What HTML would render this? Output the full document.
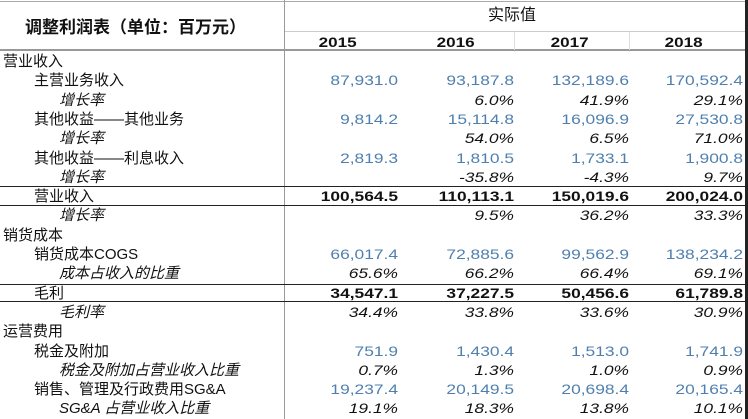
<!DOCTYPE html>
<html><head><meta charset="utf-8"><style>
body{margin:0;width:748px;height:419px;background:#fff;overflow:hidden;position:relative;font-family:"Liberation Sans","Noto Sans CJK SC",sans-serif;color:#111}
.a{position:absolute;white-space:nowrap;line-height:19px;font-size:13px}
.n{text-align:right;width:130px;font-size:14px;transform:scaleX(1.24);transform-origin:right center}
.y{font-size:14px;transform:scaleX(1.22);transform-origin:center}
.b{color:#4f7fae}
.i{font-style:italic}
.B{font-weight:bold}
.h{position:absolute;height:1px;background:#aaa}
.v{position:absolute;width:1px;background:#aaa}
</style></head><body>
<div class="h" style="left:0;top:1px;width:748px"></div>
<div class="h" style="left:285px;top:31px;width:463px;background:#ccc"></div>
<div class="h" style="left:0;top:49px;width:748px;background:#999;height:2px"></div>
<div class="v" style="left:284px;top:0;height:419px;background:#999"></div>
<div class="v" style="left:514px;top:32px;height:18px;background:#ddd"></div>
<div class="v" style="left:629px;top:32px;height:18px;background:#ddd"></div>
<div style="position:absolute;left:745px;top:0;width:3px;height:419px;background:#222"></div>
<div class="h" style="left:0;top:186px;width:745px;background:#222"></div>
<div class="h" style="left:0;top:205px;width:745px;background:#222"></div>
<div class="h" style="left:0;top:284px;width:745px;background:#222"></div>
<div class="h" style="left:0;top:301px;width:745px;background:#222"></div>
<div class="a B" style="left:25px;top:17px;font-size:17px;line-height:22px">调整利润表（单位：百万元）</div>
<div class="a" style="left:488px;top:6px;font-size:16px">实际值</div>
<div class="a B y" style="left:322px;top:33px">2015</div>
<div class="a B y" style="left:440px;top:33px">2016</div>
<div class="a B y" style="left:554px;top:33px">2017</div>
<div class="a B y" style="left:668px;top:33px">2018</div>
<div id="r"></div>
<script>
var rows=[
["营业收入",0,"",[]],
["主营业务收入",1,"b",["87,931.0","93,187.8","132,189.6","170,592.4"]],
["增长率",2,"i",["","6.0%","41.9%","29.1%"]],
["其他收益——其他业务",1,"b",["9,814.2","15,114.8","16,096.9","27,530.8"]],
["增长率",2,"i",["","54.0%","6.5%","71.0%"]],
["其他收益——利息收入",1,"b",["2,819.3","1,810.5","1,733.1","1,900.8"]],
["增长率",2,"i",["","-35.8%","-4.3%","9.7%"]],
["营业收入",1,"B",["100,564.5","110,113.1","150,019.6","200,024.0"]],
["增长率",2,"i",["","9.5%","36.2%","33.3%"]],
["销货成本",0,"",[]],
["销货成本COGS",1,"b",["66,017.4","72,885.6","99,562.9","138,234.2"]],
["成本占收入的比重",2,"i",["65.6%","66.2%","66.4%","69.1%"]],
["毛利",1,"B",["34,547.1","37,227.5","50,456.6","61,789.8"]],
["毛利率",2,"i",["34.4%","33.8%","33.6%","30.9%"]],
["运营费用",0,"",[]],
["税金及附加",1,"b",["751.9","1,430.4","1,513.0","1,741.9"]],
["税金及附加占营业收入比重",2,"i",["0.7%","1.3%","1.0%","0.9%"]],
["销售、管理及行政费用SG&A",1,"b",["19,237.4","20,149.5","20,698.4","20,165.4"]],
["SG&A 占营业收入比重",2,"i",["19.1%","18.3%","13.8%","10.1%"]]
];
var R=[398,514,629,743],h="";
rows.forEach(function(r,k){
 var y=Math.round(52+k*19.3);
 var x=[3,34,59][r[1]];
 var lc=r[2]=="i"?"i":"";
 h+='<div class="a '+lc+'" style="left:'+x+'px;top:'+y+'px;font-size:15px">'+r[0].replace("&","&amp;")+'</div>';
 r[3].forEach(function(v,j){ if(v) h+='<div class="a n '+r[2]+'" style="left:'+(R[j]-130)+'px;top:'+y+'px">'+v+'</div>';});
});
document.getElementById("r").innerHTML=h;
</script>
</body></html>
